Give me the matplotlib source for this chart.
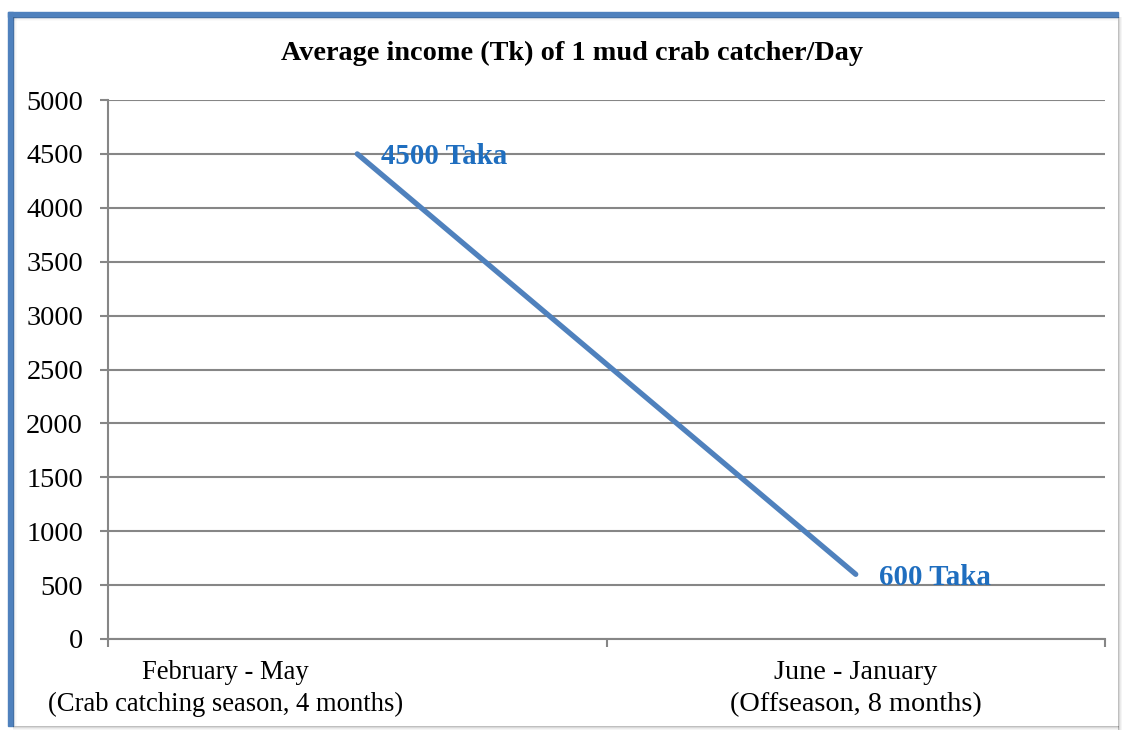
import matplotlib.pyplot as plt
from matplotlib.patches import Rectangle
from matplotlib.transforms import ScaledTranslation

# Data
periods = ["February - May\n(Crab catching season, 4 months)",
           "June - January\n(Offseason, 8 months)"]
income = [4500, 600]
labels = ["4500 Taka", "600 Taka"]
yticks = list(range(0, 5001, 500))

plt.rcParams['font.family'] = ['Liberation Serif', 'DejaVu Serif']

fig = plt.figure(figsize=(11.23, 7.31), dpi=100)
W, H = 1123, 731

# frame: blue top/left border, soft grey shadow right/bottom
fig.patches.append(Rectangle((8 / W, 1 - 17 / H), 1110 / W, 5 / H,
                             transform=fig.transFigure, color="#4F81BD", zorder=0))
fig.patches.append(Rectangle((8 / W, 1 - 726 / H), 5 / W, 714 / H,
                             transform=fig.transFigure, color="#4F81BD", zorder=0))
for i, a in enumerate([0.25, 0.15, 0.08, 0.04]):
    fig.patches.append(Rectangle(((1118 + i) / W, 1 - 730 / H), 1 / W, 713 / H,
                                 transform=fig.transFigure, color="black", alpha=a, lw=0))
    fig.patches.append(Rectangle((13 / W, 1 - (727 + i) / H), 1106 / W, 1 / H,
                                 transform=fig.transFigure, color="black", alpha=a, lw=0))
for i, a in enumerate([0.12, 0.07, 0.04, 0.02]):
    fig.patches.append(Rectangle((13 / W, 1 - (18 + i) / H), 1105 / W, 1 / H,
                                 transform=fig.transFigure, color="black", alpha=a, lw=0))
    fig.patches.append(Rectangle(((13 + i) / W, 1 - 726 / H), 1 / W, 709 / H,
                                 transform=fig.transFigure, color="black", alpha=a, lw=0))

ax = fig.add_axes([108 / W, 1 - 639 / H, 997 / W, 539 / H])
x = list(range(len(periods)))
ax.plot(x, income, color="#4F81BD", linewidth=3.8, solid_capstyle="round", zorder=3)
for xi, yi, lab in zip(x, income, labels):
    ax.annotate(lab, (xi, yi), xytext=(17, -2), textcoords="offset points",
                color="#1F6EBF", fontsize=20.8, fontweight="bold",
                va="center", ha="left")

ax.set_xlim(-0.5, 1.5)
ax.set_ylim(0, 5000)
ax.set_yticks(yticks)
ax.tick_params(axis="y", labelsize=20.3, length=6, width=1.5, color="#868686",
               direction="out", pad=12)
ax.set_xticks([-0.5, 0.5, 1.5])
ax.set_xticklabels([])
ax.tick_params(axis="x", which="major", length=6, width=1.5, color="#868686",
               direction="out")
ax.set_xticks(x, minor=True)
ax.set_xticklabels(periods, minor=True, fontsize=20.3, linespacing=1.36)
ax.tick_params(axis="x", which="minor", length=0, pad=15)

# first category label sits left of its category centre in the original
first = ax.get_xticklabels(minor=True)[0]
first.set_transform(first.get_transform() + ScaledTranslation(-132 / 100, 0, fig.dpi_scale_trans))
first.set_fontsize(19.2)

ax.grid(axis="y", color="#868686", linewidth=1.5)
ax.set_axisbelow(True)
for s in ["top", "right"]:
    ax.spines[s].set_visible(False)
for s in ["left", "bottom"]:
    ax.spines[s].set_color("#868686")
    ax.spines[s].set_linewidth(1.5)

fig.text(572 / W, 1 - 53 / H, "Average income (Tk) of 1 mud crab catcher/Day",
         ha="center", va="center", fontsize=20.3, fontweight="bold")

fig.savefig("out.png", dpi=100)
